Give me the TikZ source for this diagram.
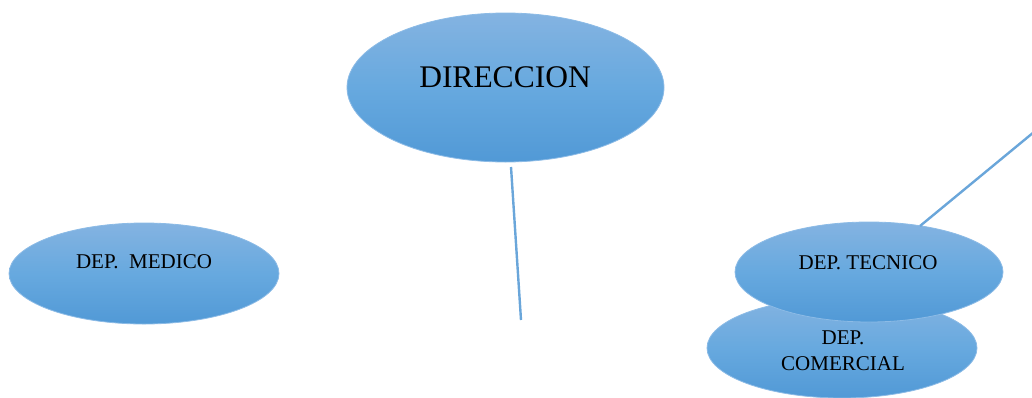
\documentclass[tikz,border=0pt]{standalone}
\usepackage{fontspec}
\setmainfont{Liberation Serif}
\usetikzlibrary{shapes.geometric}
\definecolor{topblue}{HTML}{84B3E1}
\definecolor{midblue}{HTML}{67A9DF}
\definecolor{botblue}{HTML}{5199D6}
\definecolor{edgeblue}{HTML}{8CBBE6}
\definecolor{lineblue}{HTML}{6AA6DA}
\tikzset{
  oval/.style={ellipse, inner sep=0pt, draw=edgeblue, line width=0.8pt,
    top color=topblue, bottom color=botblue, middle color=midblue},
  txt/.style={inner sep=0pt, text=black, align=center},
  conn/.style={draw=lineblue, line width=2.4pt}
}
\begin{document}
\begin{tikzpicture}[x=1pt,y=-1pt]
\useasboundingbox (0,0) rectangle (1032,397);
% ovals
\node[oval, minimum width=317pt, minimum height=149pt] (dir) at (505.5,87.5) {};
\node[txt, font=\fontsize{31.5}{36}\selectfont] (dirt) at (505,77) {DIRECCION};
\node[oval, minimum width=270pt, minimum height=101pt] (med) at (144,273.5) {};
\node[txt, font=\fontsize{21}{24}\selectfont] (medt) at (144,262) {DEP.\ \ MEDICO};
\node[oval, minimum width=270pt, minimum height=100pt] (com) at (842,348) {};
\node[txt, font=\fontsize{21}{26}\selectfont] (comt) at (843,351) {DEP.\\COMERCIAL};
\node[oval, minimum width=268pt, minimum height=100pt] (tec) at (869,272) {};
\node[txt, font=\fontsize{21}{24}\selectfont] (tect) at (868,262.5) {DEP. TECNICO};
% connectors
\coordinate (a1) at (511,167);
\coordinate (a2) at (521,320);
\coordinate (b1) at (920,226);
\coordinate (b2) at (1034,132);
\draw[conn] (a1) -- (a2);
\draw[conn] (b1) -- (b2);
\end{tikzpicture}
\end{document}
